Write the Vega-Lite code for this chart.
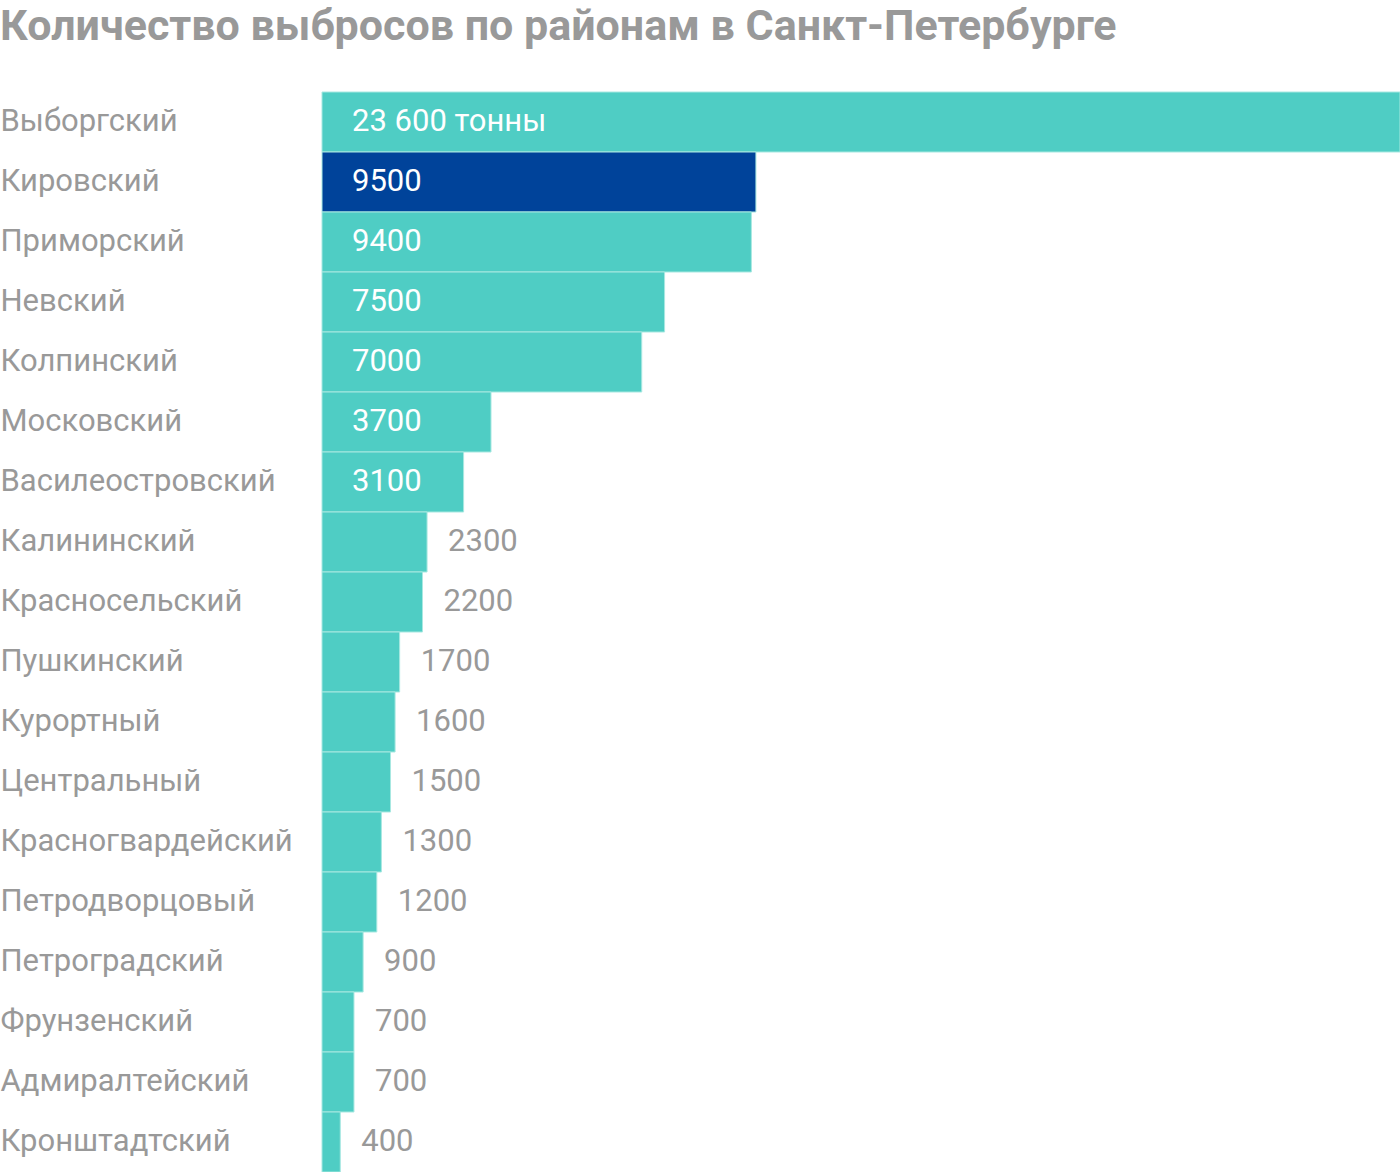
{
  "$schema": "https://vega.github.io/schema/vega-lite/v6.json",
  "width": 1078,
  "height": 1080,
  "autosize": {"type": "none"},
  "padding": {"left": 322, "top": 92, "right": 0, "bottom": 0},
  "background": "#ffffff",
  "title": {
    "text": "Количество выбросов по районам в Санкт-Петербурге",
    "anchor": "start",
    "frame": "group",
    "dx": -322,
    "offset": 43,
    "font": "Roboto",
    "fontSize": 43,
    "fontWeight": "bold",
    "color": "#999999"
  },
  "config": {"view": {"stroke": null}},
  "data": {
    "values": [
      {"district": "Выборгский", "value": 23600, "label": "23 600 тонны", "hl": "no"},
      {"district": "Кировский", "value": 9500, "label": "9500", "hl": "yes"},
      {"district": "Приморский", "value": 9400, "label": "9400", "hl": "no"},
      {"district": "Невский", "value": 7500, "label": "7500", "hl": "no"},
      {"district": "Колпинский", "value": 7000, "label": "7000", "hl": "no"},
      {"district": "Московский", "value": 3700, "label": "3700", "hl": "no"},
      {"district": "Василеостровский", "value": 3100, "label": "3100", "hl": "no"},
      {"district": "Калининский", "value": 2300, "label": "2300", "hl": "no"},
      {"district": "Красносельский", "value": 2200, "label": "2200", "hl": "no"},
      {"district": "Пушкинский", "value": 1700, "label": "1700", "hl": "no"},
      {"district": "Курортный", "value": 1600, "label": "1600", "hl": "no"},
      {"district": "Центральный", "value": 1500, "label": "1500", "hl": "no"},
      {"district": "Красногвардейский", "value": 1300, "label": "1300", "hl": "no"},
      {"district": "Петродворцовый", "value": 1200, "label": "1200", "hl": "no"},
      {"district": "Петроградский", "value": 900, "label": "900", "hl": "no"},
      {"district": "Фрунзенский", "value": 700, "label": "700", "hl": "no"},
      {"district": "Адмиралтейский", "value": 700, "label": "700", "hl": "no"},
      {"district": "Кронштадтский", "value": 400, "label": "400", "hl": "no"}
    ]
  },
  "encoding": {
    "y": {
      "field": "district",
      "type": "nominal",
      "sort": null,
      "scale": {"paddingInner": 0, "paddingOuter": 0},
      "axis": {
        "title": null,
        "ticks": false,
        "domain": false,
        "labelAlign": "left",
        "labelPadding": 322,
        "labelFont": "Roboto",
        "labelFontSize": 31,
        "labelColor": "#999999",
        "labelLimit": 400
      }
    }
  },
  "layer": [
    {
      "mark": {"type": "bar", "stroke": "#a8e8e1", "strokeWidth": 1},
      "encoding": {
        "x": {
          "field": "value",
          "type": "quantitative",
          "scale": {"domain": [0, 23600], "nice": false},
          "axis": null
        },
        "color": {
          "field": "hl",
          "type": "nominal",
          "scale": {"domain": ["no", "yes"], "range": ["#4fcdc4", "#00439a"]},
          "legend": null
        }
      }
    },
    {
      "transform": [{"filter": "datum.value >= 3000"}],
      "mark": {"type": "text", "align": "left", "baseline": "middle", "dx": 30, "font": "Roboto", "fontSize": 31, "color": "#ffffff"},
      "encoding": {
        "x": {"datum": 0, "type": "quantitative"},
        "text": {"field": "label"}
      }
    },
    {
      "transform": [{"filter": "datum.value < 3000"}],
      "mark": {"type": "text", "align": "left", "baseline": "middle", "dx": 21, "font": "Roboto", "fontSize": 31, "color": "#999999"},
      "encoding": {
        "x": {"field": "value", "type": "quantitative"},
        "text": {"field": "label"}
      }
    }
  ]
}
